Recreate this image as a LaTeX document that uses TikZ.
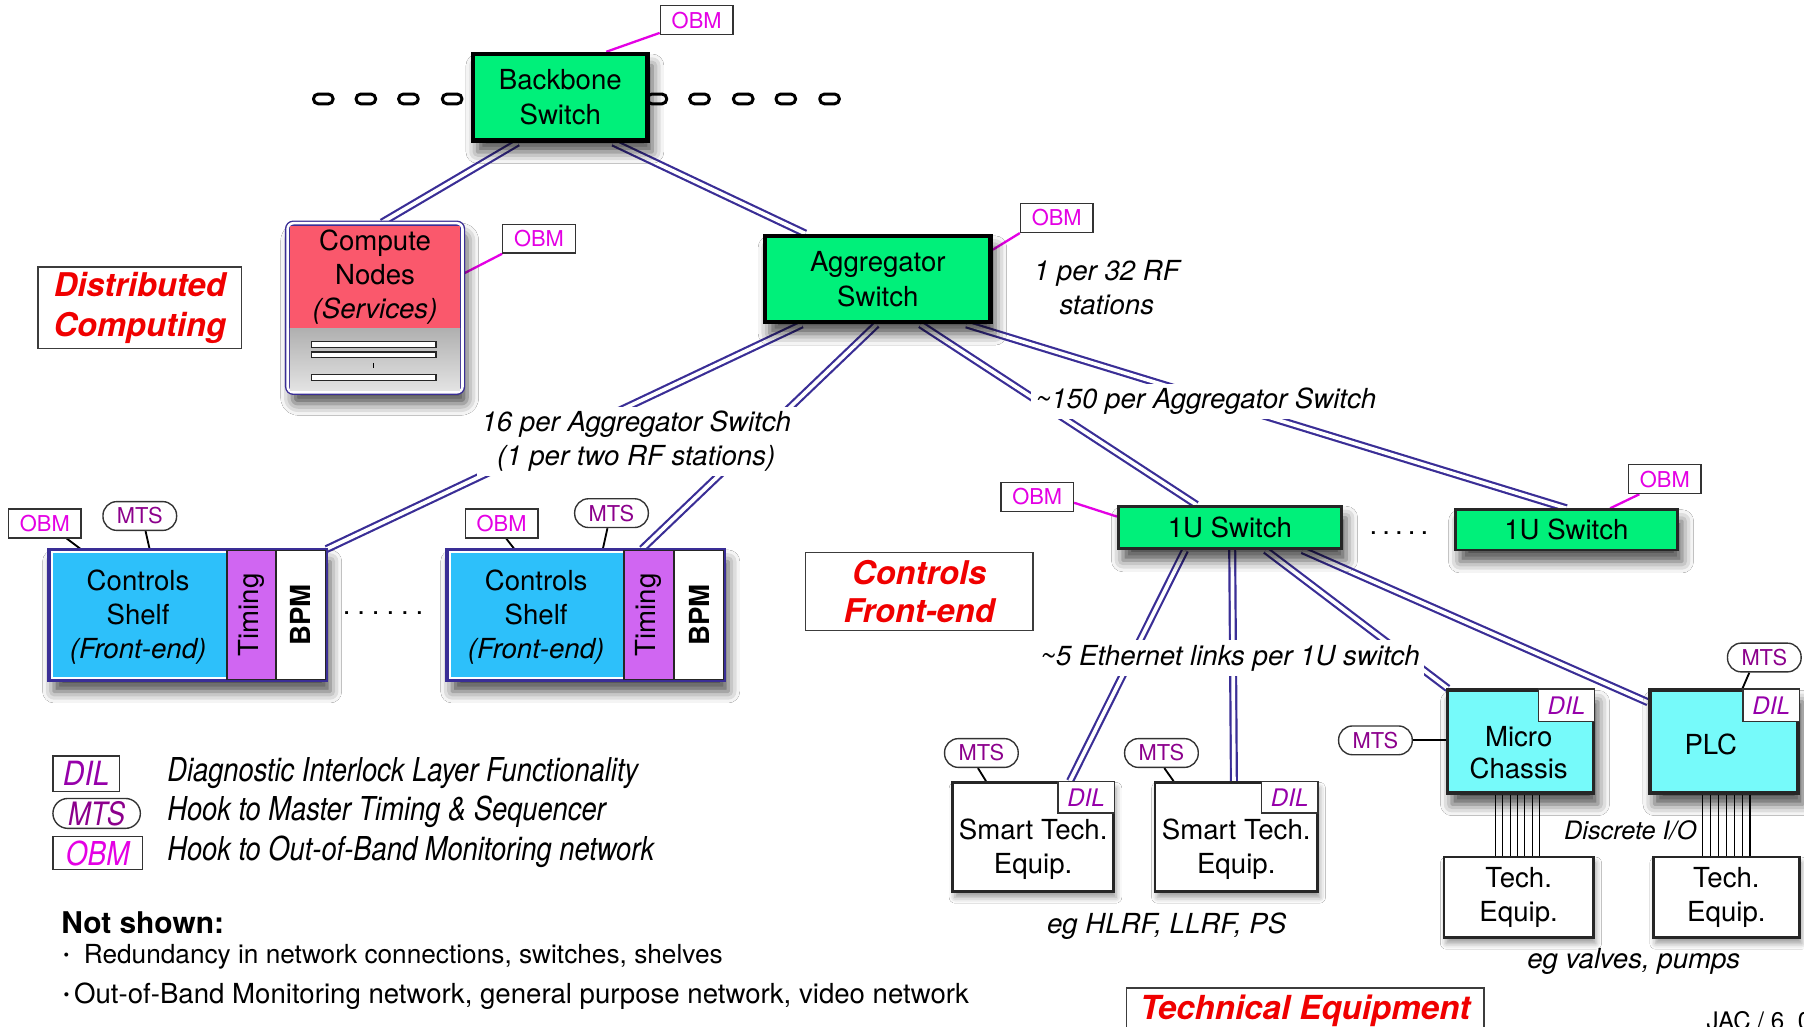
\documentclass[tikz,border=0pt]{standalone}
\usepackage{fontspec}
\setmainfont{TeX Gyre Heros}
\usetikzlibrary{shadows.blur,calc}

\definecolor{swgreen}{RGB}{0,240,122}
\definecolor{cnred}{RGB}{250,88,108}
\definecolor{shelfblue}{RGB}{45,192,250}
\definecolor{timpurple}{RGB}{208,102,242}
\definecolor{chcyan}{RGB}{118,250,250}
\definecolor{linkc}{RGB}{58,46,150}
\definecolor{obmc}{RGB}{228,0,228}
\definecolor{mtsc}{RGB}{140,0,140}
\definecolor{dilc}{RGB}{150,0,170}
\definecolor{tagred}{RGB}{240,0,0}
\definecolor{framegray}{RGB}{60,60,60}

\pgfdeclarelayer{back}
\pgfsetlayers{back,main}

\tikzset{
  txt/.style={font=\fontsize{12}{15}\selectfont},
  note/.style={font=\itshape\fontsize{12}{14.5}\selectfont},
  legendtxt/.style={anchor=west, font=\itshape\fontsize{14.3}{16}\selectfont},
  softshadow/.style={blur shadow={shadow xshift=2pt, shadow yshift=-5pt, shadow blur radius=5pt, shadow opacity=70}},
  lightshadow/.style={blur shadow={shadow xshift=1pt, shadow yshift=-2.5pt, shadow blur radius=2.5pt, shadow opacity=40}},
  bigswitch/.style={draw=black, fill=swgreen, line width=2pt, softshadow, txt},
  smallswitch/.style={draw=black!85, fill=swgreen, line width=1.2pt, softshadow, txt},
  obm/.style={draw=black!80, line width=0.6pt, fill=white, minimum width=31.5pt, minimum height=12.5pt, text=obmc, font=\fontsize{9.5}{10}\selectfont},
  mts/.style={draw=black!80, line width=0.6pt, fill=white, rounded corners=6pt, minimum width=32pt, minimum height=12.5pt, text=mtsc, font=\fontsize{9.5}{10}\selectfont},
  dil/.style={draw=black!80, line width=0.6pt, fill=white, minimum width=24.5pt, minimum height=13.5pt, text=dilc, font=\itshape\fontsize{10.5}{11}\selectfont},
  link/.style={draw=linkc, line width=0.95pt, double=white, double distance=1.6pt},
  obmline/.style={draw=obmc, line width=1pt},
  hook/.style={draw=black, line width=0.8pt},
  wire/.style={draw=black, line width=0.45pt},
  tag/.style={draw=framegray, line width=0.6pt, fill=white, text=tagred, font=\bfseries\itshape\fontsize{14.2}{17.5}\selectfont},
  equip/.style={draw=black!85, line width=1.1pt, fill=white, lightshadow},
  chassis/.style={draw=black!85, line width=1.6pt, fill=chcyan, softshadow},
  ring/.style={draw=black, line width=1.3pt, rounded corners=2pt, minimum width=8.5pt, minimum height=4.2pt},
  part/.style={draw=black!85, line width=0.8pt, minimum width=21.5pt, minimum height=56.5pt},
  shelfframe/.style={draw=linkc, line width=0.9pt, fill=white, softshadow, minimum width=120pt, minimum height=56.5pt},
}

\begin{document}
\begin{tikzpicture}[x=0.5pt, y=-0.5pt, every node/.style={inner sep=0pt, align=center}]
\useasboundingbox (0,0) rectangle (1568,892);

% ring chain through the backbone switch
\foreach \k/\xx in {1/281,2/318,3/355,4/393,5/571,6/608,7/646,8/683,9/721}
  \node[ring] (ring\k) at (\xx,86) {};

% backbone and aggregator switches
\node[bigswitch, minimum width=76pt, minimum height=37.5pt] (bb) at (487,84.5) {Backbone\\Switch};
\node[obm] (obmbb) at (605.5,17.5) {OBM};
\node[bigswitch, minimum width=98pt, minimum height=37.5pt] (agg) at (763,242.5) {Aggregator\\Switch};
\node[obm] (obmagg) at (918.5,189.5) {OBM};
\node[note] (n32) at (962,250) {1 per 32 RF\\stations};

% compute nodes
\node[draw=linkc, double=white, line width=0.6pt, double distance=1.1pt, rounded corners=2.5pt, fill=gray!30, softshadow, minimum width=76pt, minimum height=73.5pt] (cn) at (326,267.5) {};
\node[fill=cnred, minimum width=74pt, minimum height=44.5pt, anchor=north] (cnr) at (326,196) {};
\node[top color=gray!62, bottom color=gray!22, minimum width=74pt, minimum height=27pt, anchor=north] (cng) at (326,285) {};
\foreach \k/\yy in {1/299.5,2/308.5,3/328}
  \node[draw=black!85, line width=0.5pt, fill=white, minimum width=54pt, minimum height=2.6pt] (bar\k) at (325,\yy) {};
\draw[line width=0.5pt] (325,315.5) -- (325,319.5);
\node[txt, font=\fontsize{12}{14.75}\selectfont] (cnt) at (326,240.5) {Compute\\Nodes\\\textit{(Services)}};
\node[obm] (obmcn) at (468.5,207.5) {OBM};
\node[tag, minimum width=88.5pt, minimum height=35.5pt] (tgdc) at (121.5,267.5) {Distributed\\Computing};

% controls shelves
\node[shelfframe] (sh1) at (163,534.5) {};
\node[fill=shelfblue, minimum width=75.5pt, minimum height=53.5pt] (cs1) at (121.5,534.5) {};
\node[part, fill=timpurple] (tm1) at (218.5,534.5) {};
\node[part, fill=white] (bp1) at (261.5,534.5) {};
\draw[linkc, line width=0.9pt] (sh1.north west) rectangle (sh1.south east);
\node[txt, font=\fontsize{12}{14.75}\selectfont] (cs1t) at (120,536.5) {Controls\\Shelf\\\textit{(Front-end)}};
\node[txt, rotate=90] (tm1t) at (tm1) {Timing};
\node[rotate=90, font=\bfseries\fontsize{12}{15}\selectfont] (bp1t) at (bp1) {BPM};
\node[obm] (obms1) at (39,455) {OBM};
\node[mts] (mtss1) at (121.5,448.5) {MTS};

\node[shelfframe] (sh2) at (509,534.5) {};
\node[fill=shelfblue, minimum width=75pt, minimum height=53.5pt] (cs2) at (467,534.5) {};
\node[part, fill=timpurple] (tm2) at (564,534.5) {};
\node[part, fill=white] (bp2) at (607.5,534.5) {};
\draw[linkc, line width=0.9pt] (sh2.north west) rectangle (sh2.south east);
\node[txt, font=\fontsize{12}{14.75}\selectfont] (cs2t) at (466,536.5) {Controls\\Shelf\\\textit{(Front-end)}};
\node[txt, rotate=90] (tm2t) at (tm2) {Timing};
\node[rotate=90, font=\bfseries\fontsize{12}{15}\selectfont] (bp2t) at (bp2) {BPM};
\node[obm] (obms2) at (436,455) {OBM};
\node[mts] (mtss2) at (531.5,446) {MTS};

\node[txt] (dots1) at (333,533) {.\hspace{3pt}.\hspace{3pt}.\hspace{3pt}.\hspace{3pt}.\hspace{3pt}.};
\node[tag, font=\bfseries\itshape\fontsize{14.2}{16.5}\selectfont, minimum width=99pt, minimum height=34pt] (tgcf) at (799,514) {Controls\\Front-end};

% 1U switches
\node[smallswitch, minimum width=97pt, minimum height=18.5pt] (u1) at (1069,458.5) {1U Switch};
\node[smallswitch, minimum width=96.5pt, minimum height=17.5pt] (u2) at (1361.5,460.5) {1U Switch};
\node[obm] (obmu1) at (901.5,432) {OBM};
\node[obm] (obmu2) at (1447,416.5) {OBM};
\node[txt] (dots2) at (1216,463) {.\hspace{2.2pt}.\hspace{2.2pt}.\hspace{2.2pt}.\hspace{2.2pt}.};

% smart technical equipment
\node[equip, minimum width=70pt, minimum height=47.5pt] (st1) at (898,727.5) {};
\node[dil, anchor=north east] (dilst1) at (st1.north east) {DIL};
\node[txt] (st1t) at (898,738) {Smart Tech.\\Equip.};
\node[mts] (mtsst1) at (853,654.5) {MTS};
\node[equip, minimum width=70.5pt, minimum height=47.5pt] (st2) at (1074.5,727.5) {};
\node[dil, anchor=north east] (dilst2) at (st2.north east) {DIL};
\node[txt] (st2t) at (1074.5,738) {Smart Tech.\\Equip.};
\node[mts] (mtsst2) at (1009.5,654.5) {MTS};
\node[note] (eg1) at (1014,805) {eg HLRF, LLRF, PS};

% micro chassis and PLC with discrete I/O
\node[chassis, minimum width=63.5pt, minimum height=44.5pt] (mc) at (1321.5,644.5) {};
\node[dil, anchor=north east, minimum height=14pt] (dilmc) at (mc.north east) {DIL};
\node[txt, font=\fontsize{12}{14}\selectfont] (mct) at (1320,654) {Micro\\Chassis};
\node[mts] (mtsmc) at (1195.5,643.5) {MTS};
\node[chassis, minimum width=64.5pt, minimum height=44.5pt] (plc) at (1498.5,644.5) {};
\node[dil, anchor=north east, minimum height=14pt] (dilplc) at (plc.north east) {DIL};
\node[txt] (plct) at (1487,647) {PLC};
\node[mts] (mtsplc) at (1533.5,571.5) {MTS};
\node[equip, txt, minimum width=65pt, minimum height=35pt] (te1) at (1320,780) {Tech.\\Equip.};
\node[equip, txt, minimum width=63.5pt, minimum height=35pt] (te2) at (1500.5,780) {Tech.\\Equip.};
\node[note, font=\itshape\fontsize{11}{13}\selectfont] (dio) at (1417,722) {Discrete I/O};
\node[note] (eg2) at (1420,836) {eg valves, pumps};
\node[tag, minimum width=155.5pt, minimum height=20pt, anchor=north, font=\bfseries\itshape\fontsize{14.4}{16}\selectfont] (tgte) at (1134.5,858) {Technical Equipment};
\node[anchor=base west, font=\fontsize{10.5}{12}\selectfont] (jac) at (1483,895) {JAC / 6\_07};

% link counts
\node[note, fill=white, inner sep=2pt] (lb16) at (553,383.5) {16 per Aggregator Switch\\(1 per two RF stations)};
\node[note, fill=white, inner sep=2pt] (lb150) at (1048,349) {\textasciitilde150 per Aggregator Switch};
\node[note, fill=white, inner sep=2pt] (lb5) at (1069,572) {\textasciitilde5 Ethernet links per 1U switch};

% legend
\node[draw=black!80, line width=0.6pt, minimum width=29pt, minimum height=15.5pt, text=dilc, font=\itshape\fontsize{14.5}{15}\selectfont] (lgdil) at (75,672.5) {\scalebox{0.9}[1]{DIL}};
\node[draw=black!80, line width=0.6pt, rounded corners=6.5pt, minimum width=38pt, minimum height=13pt, text=mtsc, font=\itshape\fontsize{14}{14}\selectfont] (lgmts) at (84,707) {\scalebox{0.85}[1]{MTS}};
\node[draw=black!80, line width=0.6pt, minimum width=39pt, minimum height=14.5pt, text=obmc, font=\itshape\fontsize{14.3}{14}\selectfont] (lgobm) at (85,741.5) {\scalebox{0.85}[1]{OBM}};
\node[legendtxt] (lgdilt) at (145,672) {\scalebox{0.83}[1]{Diagnostic Interlock Layer Functionality}};
\node[legendtxt] (lgmtst) at (145,706) {\scalebox{0.83}[1]{Hook to Master Timing \& Sequencer}};
\node[legendtxt] (lgobmt) at (145,740) {\scalebox{0.83}[1]{Hook to Out-of-Band Monitoring network}};
\node[anchor=west, font=\bfseries\fontsize{13}{15}\selectfont] (ns) at (53,802) {Not shown:};
\node[anchor=west, font=\fontsize{11.4}{14}\selectfont] (ns1) at (55,832) {\raisebox{0.12em}{\scalebox{0.6}{\textbullet}}\ \ Redundancy in network connections, switches, shelves};
\node[anchor=west, font=\fontsize{12}{14}\selectfont] (ns2) at (55,866) {\raisebox{0.12em}{\scalebox{0.6}{\textbullet}}\,Out-of-Band Monitoring network, general purpose network, video network};

% white page and the connectors underneath the boxes
\begin{pgfonlayer}{back}
\fill[white] (0,0) rectangle (1568,892);
\draw[link] ([xshift=-18.5pt]bb.south) -- ([xshift=3pt]cn.north);
\draw[link] ([xshift=23pt]bb.south) -- ([xshift=-31.5pt]agg.north);
\draw[link] ([xshift=-33pt]agg.south) -- (bp1.north east);
\draw[link] ([xshift=-0.5pt]agg.south) -- ([xshift=-3pt]tm2.north);
\draw[link] ([xshift=18.5pt]agg.south) -- ([xshift=-14.5pt]u1.north);
\draw[link] ([xshift=38.5pt]agg.south) -- (u2.north);
\draw[link] ([xshift=-19.5pt]u1.south) -- ([xshift=16pt]st1.north);
\draw[link] ([xshift=1pt]u1.south) -- ([xshift=-1pt]st2.north);
\draw[link] ([xshift=15.5pt]u1.south) -- ([xshift=1pt]mc.north west);
\draw[link] ([xshift=31.5pt]u1.south) -- ([yshift=-6pt]plc.north west);
\draw[obmline] ([yshift=1pt]obmbb.south west) -- ([xshift=20pt]bb.north);
\draw[obmline] (obmcn.south west) -- ([yshift=14.75pt]cn.east);
\draw[obmline] (obmagg.south west) -- ([yshift=12.75pt]agg.east);
\draw[obmline] ([yshift=-2.5pt]obmu1.east) -- ([yshift=4.75pt]u1.west);
\draw[obmline] ([xshift=5pt]obmu2.south west) -- ([xshift=19pt]u2.north);
\draw[hook] ([xshift=9.5pt]obms1.south) -- ([xshift=-46.5pt]sh1.north);
\draw[hook] ([xshift=2.5pt]mtss1.south) -- ([xshift=-16.5pt]sh1.north);
\draw[hook] ([xshift=2pt]obms2.south) -- ([xshift=-31pt]sh2.north);
\draw[hook] ([xshift=-1.75pt]mtss2.south) -- ([xshift=7.5pt]sh2.north);
\draw[hook] ([xshift=-1.5pt]mtsst1.south) -- ([xshift=-20.5pt]st1.north);
\draw[hook] ([xshift=1.25pt]mtsst2.south) -- ([xshift=-27.25pt]st2.north);
\draw[hook] (mtsmc.east) -- (mtsmc.east -| mc.west);
\draw[hook] ([xshift=-6.5pt]mtsplc.south) -- ([xshift=8pt]plc.north);
\foreach \k in {0,...,6}{
  \path ([xshift={-10.75pt+\k*3.17pt}]mc.south) coordinate (mw\k);
  \draw[wire] (mw\k) -- (mw\k |- te1.north);
  \path ([xshift={-9.25pt+\k*3.42pt}]plc.south) coordinate (pw\k);
  \draw[wire] (pw\k) -- (pw\k |- te2.north);
}
\end{pgfonlayer}
\end{tikzpicture}
\end{document}
